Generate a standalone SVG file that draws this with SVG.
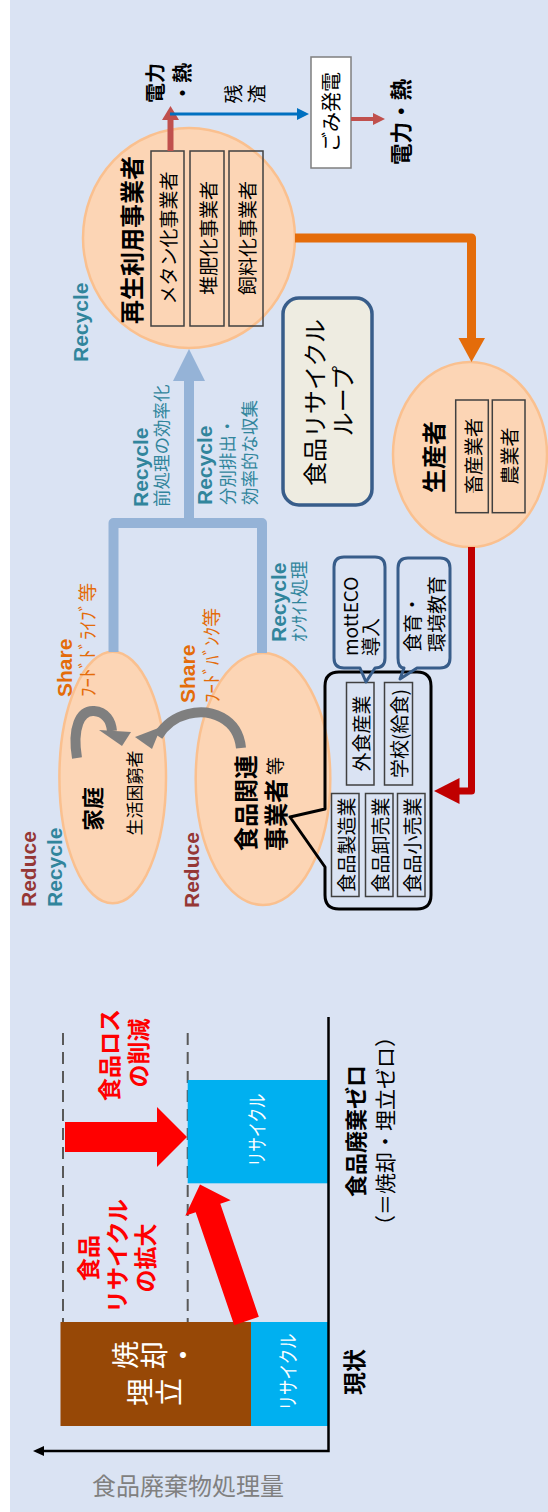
<svg xmlns="http://www.w3.org/2000/svg" width="548" height="1512" viewBox="0 0 548 1512">
<style>
.j{font-family:"Noto Sans CJK JP","Noto Sans CJK SC",sans-serif;dominant-baseline:central}
.l{font-family:"Liberation Sans",Arial,sans-serif;font-weight:bold;dominant-baseline:central}
.b{font-weight:bold}
.m{text-anchor:middle}
.s{text-anchor:start}
.peach{fill:#FCD5B5;stroke:#FAC08F;stroke-width:2.5}
.box{fill:none;stroke:#404040;stroke-width:1.5}
.teal{fill:#31859C}
.org{fill:#E46C0A}
.rd{fill:#953735}
.wh{fill:#FFFFFF}
.rr{fill:#FF0000}
.bub{fill:none;stroke:#385D8A;stroke-width:3;stroke-linejoin:round}
</style>
<rect x="0" y="0" width="548" height="1512" fill="#FFFFFF"/>
<rect x="10" y="0" width="538" height="1512" fill="#DAE3F3"/>

<!-- nodes -->
<g id="n-recycler">
<ellipse class="peach" cx="189" cy="238" rx="106" ry="110"/>
<text class="j b m" font-size="24" transform="translate(130,240) rotate(-90)">再生利用事業者</text>
<rect class="box" x="151" y="151" width="33" height="175"/>
<rect class="box" x="190" y="151" width="34" height="175"/>
<rect class="box" x="229" y="151" width="34" height="175"/>
<text class="j m" font-size="19" transform="translate(167.5,238) rotate(-90)">メタン化事業者</text>
<text class="j m" font-size="19" transform="translate(207,238) rotate(-90)">堆肥化事業者</text>
<text class="j m" font-size="19" transform="translate(246,238) rotate(-90)">飼料化事業者</text>
</g>

<g id="n-gomi">
<rect x="311" y="57" width="40" height="111" fill="#FFFFFF" stroke="#7F7F7F" stroke-width="1.5"/>
<text class="j m" font-size="20" transform="translate(330,112) rotate(-90)">ごみ発電</text>
</g>

<g id="n-loop">
<rect x="283" y="298" width="89" height="207" rx="16" fill="#EEECE1" stroke="#385D8A" stroke-width="3.5"/>
<text class="j m" font-size="24" transform="translate(313,402.5) rotate(-90)">食品リサイクル</text>
<text class="j m" font-size="24" transform="translate(341,401) rotate(-90)">ループ</text>
</g>

<g id="n-producer">
<ellipse class="peach" cx="470" cy="454.5" rx="77" ry="92.5"/>
<text class="j b m" font-size="24" transform="translate(432.5,457) rotate(-90)">生産者</text>
<rect class="box" x="455.7" y="400" width="32.6" height="112.7"/>
<rect class="box" x="492.3" y="400" width="32.7" height="112.7"/>
<text class="j m" font-size="19" transform="translate(472,456) rotate(-90)">畜産業者</text>
<text class="j m" font-size="19" transform="translate(508.7,456) rotate(-90)">農業者</text>
</g>

<g id="n-household">
<ellipse class="peach" cx="112.7" cy="777.5" rx="53.3" ry="125.8"/>
<text class="j b m" font-size="22" transform="translate(90.7,809) rotate(-90)">家庭</text>
<text class="j m" font-size="17" transform="translate(133.6,793) rotate(-90)">生活困窮者</text>
</g>

<g id="n-foodbiz">
<ellipse class="peach" cx="263" cy="779" rx="67.3" ry="126"/>
<text class="j b s" font-size="24" transform="translate(244.7,851) rotate(-90)">食品関連</text>
<text class="j s" transform="translate(273.5,851) rotate(-90)"><tspan class="b" font-size="24">事業者</tspan><tspan font-size="18"> 等</tspan></text>
</g>

<g id="n-callout">
<path d="M339,672 H417 Q431,672 431,686 V895 Q431,909 417,909 H339 Q325,909 325,895 V867 L290,817 L325,809 V686 Q325,672 339,672 Z" fill="none" stroke="#000000" stroke-width="3" stroke-linejoin="round"/>
<rect class="box" x="346.5" y="682.5" width="27.5" height="102.5"/>
<rect class="box" x="384.5" y="682.5" width="28" height="102.5"/>
<rect class="box" x="331.5" y="793.5" width="27.5" height="103"/>
<rect class="box" x="365.5" y="793.5" width="27.5" height="103"/>
<rect class="box" x="397.5" y="793.5" width="27.5" height="103"/>
<text class="j m" font-size="19" transform="translate(360.3,733.5) rotate(-90)">外食産業</text>
<text class="j m" font-size="19" transform="translate(398.5,733.5) rotate(-90)">学校(給食)</text>
<text class="j m" font-size="19" transform="translate(345.3,845) rotate(-90)">食品製造業</text>
<text class="j m" font-size="19" transform="translate(379.3,845) rotate(-90)">食品卸売業</text>
<text class="j m" font-size="19" transform="translate(411.3,845) rotate(-90)">食品小売業</text>
</g>

<g id="n-motteco">
<path class="bub" d="M344,557 H375 Q385,557 385,567 V658 Q385,668 375,668 L366,682 L360,668 H344 Q334,668 334,658 V567 Q334,557 344,557 Z"/>
<text class="j s" font-size="19" transform="translate(349.5,656) rotate(-90)">mottECO</text>
<text class="j s" font-size="19" transform="translate(369.5,656) rotate(-90)">導入</text>
</g>

<g id="n-shokuiku">
<path class="bub" d="M408,558 H440 Q450,558 450,568 V658 Q450,668 440,668 H417 L400,679 L404,668 Q398,668 398,658 V568 Q398,558 408,558 Z"/>
<text class="j s" font-size="19" transform="translate(411.5,652) rotate(-90)">食育・</text>
<text class="j s" font-size="19" transform="translate(435,652) rotate(-90)">環境教育</text>
</g>

<!-- connectors -->
<g id="connectors">
<path d="M295,238 H471.5 V338" fill="none" stroke="#E46C0A" stroke-width="9" stroke-linejoin="round"/>
<polygon points="458.5,338 485,338 471.5,362" fill="#E46C0A"/>
<path d="M113.5,652 V523 H262 V653 M189,523 V380" fill="none" stroke="#95B3D7" stroke-width="10" stroke-linejoin="round"/>
<polygon points="173,381 205,381 189,349" fill="#95B3D7"/>
<path d="M471.5,547 V791 H459" fill="none" stroke="#C00000" stroke-width="7" stroke-linejoin="round"/>
<polygon points="459.5,778 459.5,804 434,791" fill="#C00000"/>
<line x1="170.5" y1="151" x2="170.5" y2="120" stroke="#C0504D" stroke-width="6"/>
<polygon points="162,120 179,120 170.5,106" fill="#C0504D"/>
<line x1="170" y1="114" x2="298" y2="114" stroke="#0070C0" stroke-width="3"/>
<polygon points="297,108 297,120 309,114" fill="#0070C0"/>
<line x1="351" y1="119" x2="374" y2="119" stroke="#C0504D" stroke-width="4"/>
<polygon points="373,113 373,125 385,119" fill="#C0504D"/>
<path d="M77,758 C72,728 80,710 94,711 C106,712 111,721 112,731" fill="none" stroke="#7F7F7F" stroke-width="10"/>
<polygon points="99,730 131,732 122,746" fill="#7F7F7F"/>
<path d="M241,748 C238,718 210,708 188,714 C172,718 163,728 158,736" fill="none" stroke="#7F7F7F" stroke-width="10"/>
<polygon points="161,727 152,749 135,737" fill="#7F7F7F"/>
</g>

<!-- labels -->
<g id="labels">
<text class="j b s" font-size="20" transform="translate(154.5,103) rotate(-90)">電力</text>
<text class="j b s" font-size="20" transform="translate(181,103) rotate(-90)">・熱</text>
<text class="j m" font-size="19" transform="translate(232,94) rotate(-90)">残</text>
<text class="j m" font-size="19" transform="translate(255,94) rotate(-90)">渣</text>
<text class="j b m" font-size="21.5" transform="translate(399.5,122) rotate(-90)">電力・熱</text>

<text class="l teal s" font-size="21" transform="translate(80,362) rotate(-90)">Recycle</text>
<text class="l teal s" font-size="21" transform="translate(140,507) rotate(-90)">Recycle</text>
<text class="j teal s" font-size="17.5" transform="translate(160,507) rotate(-90)">前処理の効率化</text>
<text class="l teal s" font-size="21" transform="translate(204.5,505) rotate(-90)">Recycle</text>
<text class="j teal s" font-size="17.5" transform="translate(226,505) rotate(-90)">分別排出・</text>
<text class="j teal s" font-size="17.5" transform="translate(248,505) rotate(-90)">効率的な収集</text>
<text class="l org s" font-size="21" transform="translate(64.7,697) rotate(-90)">Share</text>
<text class="j org s" font-size="19" transform="translate(86.5,697) rotate(-90)">ﾌｰﾄﾞﾄﾞﾗｲﾌﾞ等</text>
<text class="l org s" font-size="21" transform="translate(187,703) rotate(-90)">Share</text>
<text class="j org s" font-size="19" transform="translate(210.5,703) rotate(-90)">ﾌｰﾄﾞﾊﾞﾝｸ等</text>
<text class="l teal s" font-size="21" transform="translate(278,642) rotate(-90)">Recycle</text>
<text class="j teal s" font-size="18" transform="translate(298,642) rotate(-90)">ｵﾝｻｲﾄ処理</text>
<text class="l rd s" font-size="21" transform="translate(28,907) rotate(-90)">Reduce</text>
<text class="l teal s" font-size="21" transform="translate(54,907) rotate(-90)">Recycle</text>
<text class="l rd s" font-size="21" transform="translate(191,908) rotate(-90)">Reduce</text>
</g>

<!-- chart -->
<g id="chart">
<line x1="63" y1="1033" x2="63" y2="1322" stroke="#595959" stroke-width="2" stroke-dasharray="12 7"/>
<line x1="187.7" y1="1033" x2="187.7" y2="1322" stroke="#595959" stroke-width="2" stroke-dasharray="12 7"/>
<rect x="187.7" y="1080" width="141.3" height="103.3" fill="#00B0F0"/>
<rect x="60.5" y="1322" width="190.5" height="104" fill="#974806"/>
<rect x="251" y="1322" width="78" height="104" fill="#00B0F0"/>
<polygon points="234.2,1325.2 258.8,1316.8 220.3,1203.8 230.7,1200.3 200,1184.4 185.3,1215.7 195.7,1212.2" fill="#FF0000"/>
<polygon points="65,1122 157,1122 157,1107 187,1137 157,1167 157,1152 65,1152" fill="#FF0000"/>
<path d="M328.5,1017 V1451 H42" fill="none" stroke="#000000" stroke-width="2.5"/>
<polygon points="33,1451 44,1446 44,1456" fill="#000000"/>
<text class="j wh m" font-size="20" textLength="73" lengthAdjust="spacingAndGlyphs" transform="translate(256,1130) rotate(-90)">リサイクル</text>
<text class="j wh m" font-size="20" textLength="77" lengthAdjust="spacingAndGlyphs" transform="translate(287,1372) rotate(-90)">リサイクル</text>
<text class="j wh m" font-size="28" transform="translate(124,1355) rotate(-90)">焼</text>
<text class="j wh m" font-size="28" transform="translate(153,1355) rotate(-90)">却</text>
<text class="j wh m" font-size="28" transform="translate(182,1355) rotate(-90)">・</text>
<text class="j wh m" font-size="28" transform="translate(139,1392) rotate(-90)">埋</text>
<text class="j wh m" font-size="28" transform="translate(168,1392) rotate(-90)">立</text>
<text class="j b rr m" font-size="23" transform="translate(107.5,1055) rotate(-90)">食品ロス</text>
<text class="j b rr m" font-size="23" transform="translate(136.5,1053) rotate(-90)">の削減</text>
<text class="j b rr m" font-size="23" transform="translate(86.5,1258) rotate(-90)">食品</text>
<text class="j b rr m" font-size="23" transform="translate(115.5,1256) rotate(-90)">リサイクル</text>
<text class="j b rr m" font-size="23" transform="translate(143.5,1258) rotate(-90)">の拡大</text>
<text class="j b m" font-size="22" transform="translate(354,1131) rotate(-90)">食品廃棄ゼロ</text>
<text class="j m" font-size="21" transform="translate(383.5,1131) rotate(-90)">（＝焼却・埋立ゼロ）</text>
<text class="j b m" font-size="23" transform="translate(353,1372) rotate(-90)">現状</text>
<text class="j m" font-size="24" x="188" y="1484" fill="#808080">食品廃棄物処理量</text>
</g>
</svg>
